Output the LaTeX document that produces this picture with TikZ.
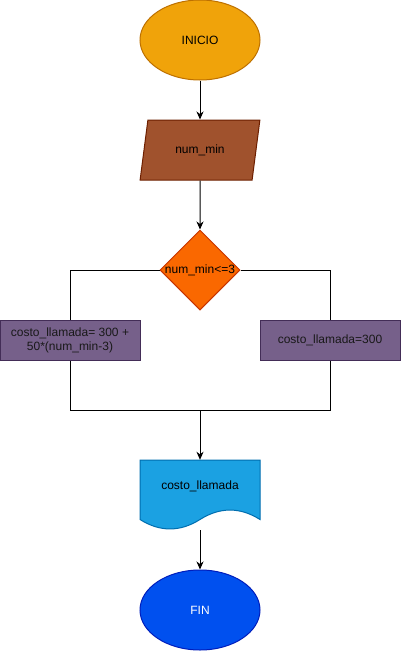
\documentclass[tikz,border=0pt]{standalone}
\usepackage{fontspec}
\setmainfont{Liberation Sans}
\usetikzlibrary{shapes.geometric, arrows.meta}
\definecolor{inicioFill}{HTML}{F0A30A}
\definecolor{inicioLine}{HTML}{BD7000}
\definecolor{readFill}{HTML}{A0522D}
\definecolor{readLine}{HTML}{6D1F00}
\definecolor{condFill}{HTML}{FA6800}
\definecolor{condLine}{HTML}{C73500}
\definecolor{procFill}{HTML}{76608A}
\definecolor{procLine}{HTML}{432D57}
\definecolor{docFill}{HTML}{1BA1E2}
\definecolor{docLine}{HTML}{006EAF}
\definecolor{finFill}{HTML}{0050EF}
\definecolor{finLine}{HTML}{001DBC}
\tikzstyle{startstop} = [ellipse, minimum width=120, minimum height=80, inner sep=0pt, text centered, line width=1pt]
\tikzstyle{io} = [trapezium, trapezium left angle=71.57, trapezium right angle=108.43, trapezium stretches=true, minimum width=120, minimum height=60, inner sep=0pt, text centered, draw=readLine, fill=readFill, line width=1pt]
\tikzstyle{process} = [rectangle, minimum width=140, minimum height=40, inner sep=0pt, text centered, draw=procLine, fill=procFill, line width=1pt, text=black!90]
\tikzstyle{decision} = [diamond, minimum width=80, minimum height=80, inner sep=0pt, aspect=1, draw=condLine, fill=condFill, line width=1pt]
\tikzstyle{arrow} = [line width=1pt,-{Stealth[length=8pt, width=7pt, inset=2.5pt]}]
\tikzstyle{line} = [line width=1pt,-]

\begin{document}
\begin{tikzpicture}[x=1pt, y=-1pt, font=\fontsize{12}{14}\selectfont]
    \useasboundingbox (0,0) rectangle (401,651);
    % document shape for the output
    \draw [draw=docLine, fill=docFill, line width=1pt] (140,460) -- (260,460) -- (260,519.5)
    .. controls (240,506.9) and (220,506.9) .. (200,519.5)
    .. controls (180,532.1) and (160,532.1) .. (140,519.5) -- cycle;

    \node (inicio) [startstop, draw=inicioLine, fill=inicioFill] at (200,40) {INICIO};
    \node (read_min) [io] at (200,150) {num\_min};
    \node (cond) [decision] at (200,270) {\makebox[0pt]{num\_min<=3}};
    \node (cost_more) [process, align=center] at (70,340) {costo\_llamada= 300 +\\50*(num\_min-3)};
    \node (cost_base) [process] at (330,340) {costo\_llamada=300};
    \coordinate (join) at (200,410);
    \node (out_cost) [rectangle, minimum width=120, minimum height=70, inner sep=0pt, text depth=20pt] at (200,495) {costo\_llamada};
    \node (fin) [startstop, draw=finLine, fill=finFill, text=white] at (200,610) {FIN};

    \draw [arrow] (inicio) -- (read_min);
    \draw [arrow] (read_min) -- (cond);
    \draw [line] (cond.west) -| (cost_more.north);
    \draw [line] (cond.east) -| (cost_base.north);
    \draw [line] (cost_more.south) |- (join);
    \draw [line] (cost_base.south) |- (join);
    \draw [arrow] (join) -- (out_cost);
    \draw [arrow] (out_cost) -- (fin);
\end{tikzpicture}
\end{document}
